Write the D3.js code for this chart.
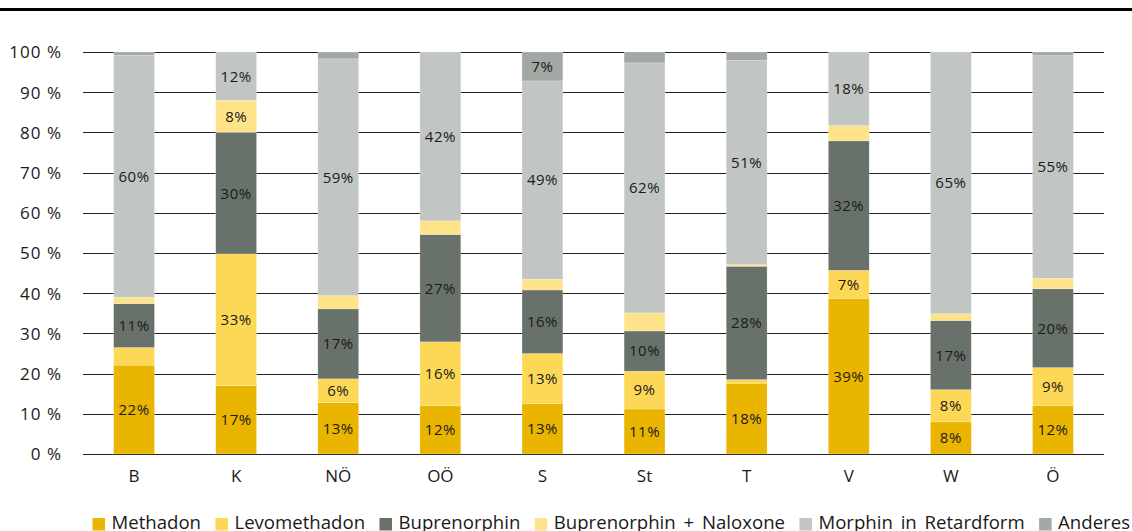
<!DOCTYPE html>
<html>
<head>
<meta charset="utf-8">
<script src="https://cdn.jsdelivr.net/npm/d3@7"></script>
<style>
  html, body { margin: 0; padding: 0; background: #fff; }
  svg { display: block; }
  text { font-family: "Open Sans", "DejaVu Sans", sans-serif; fill: #1a1a1a; }
</style>
</head>
<body>
<svg id="chart" width="1132" height="531"></svg>
<script>
// Regions (Bundesländer)
const categories = ["B", "K", "NÖ", "OÖ", "S", "St", "T", "V", "W", "Ö"];

// Substances, bottom to top
const seriesNames = ["Methadon", "Levomethadon", "Buprenorphin", "Buprenorphin + Naloxone", "Morphin in Retardform", "Anderes"];
const seriesColors = ["#E9B500", "#FDD857", "#68726A", "#FFE38A", "#C1C6C3", "#A2A9A4"];

// Share of each substance per region, in percent
const methadon       = [22.1, 17.0, 12.8, 12.0, 12.5, 11.2, 17.6, 38.7,  8.0, 12.1];
const levomethadon   = [ 4.4, 32.8,  5.9, 15.9, 12.5,  9.4,  0.9,  7.0,  8.0,  9.4];
const buprenorphin   = [10.9, 30.2, 17.4, 26.7, 15.8, 10.0, 28.2, 32.2, 17.2, 19.6];
const bupNaloxone    = [ 1.6,  8.0,  3.3,  3.4,  2.7,  4.5,  0.4,  3.8,  1.7,  2.6];
const morphinRetard  = [60.2, 12.0, 58.9, 42.0, 49.3, 62.2, 50.8, 18.3, 65.1, 55.4];
const anderes        = [ 0.8,  0.0,  1.7,  0.0,  7.2,  2.7,  2.1,  0.0,  0.0,  0.9];

const yTicks = [0, 10, 20, 30, 40, 50, 60, 70, 80, 90, 100];

const seriesValues = [methadon, levomethadon, buprenorphin, bupNaloxone, morphinRetard, anderes];
const rows = categories.map((c, i) => {
  const r = { cat: c };
  seriesNames.forEach((s, k) => { r[s] = seriesValues[k][i]; });
  return r;
});

const svg = d3.select("#chart");
const W = 1132;

// heavy rule across the top
svg.append("rect").attr("x", 0).attr("y", 8).attr("width", W).attr("height", 3).attr("fill", "#000");

const x = d3.scaleBand().domain(categories).range([83, 1104]).paddingInner(0.6).paddingOuter(0.3);
const y = d3.scaleLinear().domain([0, 100]).range([454, 52]);

// y tick labels
const yAxis = d3.axisLeft(y).tickValues(yTicks).tickSize(0).tickFormat(d => d + " %");
const gAxis = svg.append("g").attr("transform", "translate(83,0)").call(yAxis);
gAxis.select(".domain").remove();
gAxis.selectAll("text")
  .attr("x", -21)
  .attr("dy", "0.35em")
  .style("font-size", "17px")
  .style("letter-spacing", "1px")
  .style("font-family", "'Open Sans', sans-serif")
  .attr("fill", "#1a1a1a");

// gridlines
svg.append("g").selectAll("line").data(yTicks).join("line")
  .attr("x1", 83).attr("x2", 1104)
  .attr("y1", d => Math.round(y(d)) + 0.5).attr("y2", d => Math.round(y(d)) + 0.5)
  .attr("stroke", "#222").attr("stroke-width", 1.2);

// stacked bars
const stack = d3.stack().keys(seriesNames);
const layers = stack(rows);

const gLayers = svg.append("g").selectAll("g").data(layers).join("g")
  .attr("fill", (d, i) => seriesColors[i]);

gLayers.selectAll("rect").data(d => d.filter(p => p[1] - p[0] > 0)).join("rect")
  .attr("x", d => x(d.data.cat))
  .attr("width", x.bandwidth())
  .attr("y", d => y(d[1]))
  .attr("height", d => y(d[0]) - y(d[1]))
  .attr("stroke", "rgba(255,255,255,0.35)")
  .attr("stroke-width", 0.6);

// value labels for segments of 5 % and more
layers.forEach(layer => {
  svg.append("g").selectAll("text")
    .data(layer.filter(p => p[1] - p[0] >= 5))
    .join("text")
    .attr("x", d => x(d.data.cat) + x.bandwidth() / 2)
    .attr("y", d => (y(d[0]) + y(d[1])) / 2)
    .attr("dy", "0.36em")
    .attr("text-anchor", "middle")
    .style("font-size", "15px")
    .style("letter-spacing", "0.5px")
    .text(d => Math.round(d[1] - d[0]) + "%");
});

// category labels
const xAxis = d3.axisBottom(x).tickSize(0);
const gX = svg.append("g").attr("transform", "translate(0,454)").call(xAxis);
gX.select(".domain").remove();
gX.selectAll("text")
  .attr("y", 0).attr("dy", "0")
  .attr("transform", "translate(0,28)")
  .style("font-size", "17px")
  .style("font-family", "'Open Sans', sans-serif")
  .attr("fill", "#1a1a1a");

// legend along the bottom: swatch, small gap, label, spread across the row
const legend = svg.append("g");
const items = legend.selectAll("g").data(seriesNames).join("g");
items.append("rect").attr("width", 12.5).attr("height", 12.5).attr("y", 518)
  .attr("fill", (d, i) => seriesColors[i]);
const labels = items.append("text").attr("x", 19).attr("y", 529)
  .style("font-size", "18.6px")
  .style("word-spacing", "3px")
  .text(d => d);

const swatchPart = 19, left = 92.5, right = 1130;
const widths = [];
labels.each(function () { widths.push(swatchPart + this.getComputedTextLength()); });
const itemGap = (right - left - d3.sum(widths)) / (widths.length - 1);

let cx = left;
items.attr("transform", (d, i) => {
  const tx = cx;
  cx += widths[i] + itemGap;
  return `translate(${tx},0)`;
});
</script>
</body>
</html>
